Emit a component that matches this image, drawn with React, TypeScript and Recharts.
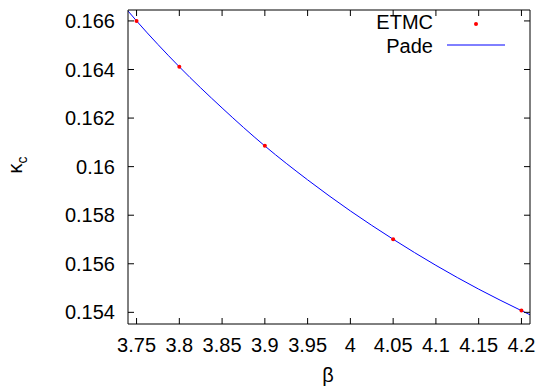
import {
  ComposedChart,
  Line,
  Scatter,
  XAxis,
  YAxis,
  Label,
} from 'recharts';

// ETMC critical kappa values
const etmcBeta = [3.75, 3.8, 3.9, 4.05, 4.2];
const etmcKappa = [0.166, 0.164111, 0.160856, 0.15701, 0.154073];

// Pade fit curve
const padeBeta = [3.74, 3.75, 3.775, 3.8, 3.85, 3.9, 3.95, 4.0, 4.05, 4.1, 4.15, 4.2, 4.21];
const padeKappa = [
  0.16641, 0.166, 0.16503, 0.164111, 0.162416, 0.160851, 0.159456, 0.158176, 0.15701,
  0.155935, 0.154955, 0.15407, 0.1539,
];

const xTicks = [3.75, 3.8, 3.85, 3.9, 3.95, 4, 4.05, 4.1, 4.15, 4.2];
const yTicks = [0.154, 0.156, 0.158, 0.16, 0.162, 0.164, 0.166];

const etmcData = etmcBeta.map((beta, i) => ({ beta, kappa: etmcKappa[i] }));
const padeData = padeBeta.map((beta, i) => ({ beta, kappa: padeKappa[i] }));

const FONT = '"Liberation Sans", Arial, sans-serif';
const tickStyle = { fontSize: 20, fill: '#000', fontFamily: FONT };

const legendRows = [
  { name: 'ETMC', kind: 'dot' },
  { name: 'Pade', kind: 'line' },
];

const LegendBox = () => (
  <div
    style={{
      position: 'absolute',
      left: 353,
      top: 10,
      width: 152,
      fontFamily: FONT,
      fontSize: 20,
      lineHeight: '24px',
      color: '#000',
    }}
  >
    {legendRows.map((r) => (
      <div key={r.name} style={{ display: 'flex', height: 24 }}>
        <span style={{ width: 80, textAlign: 'right' }}>{r.name}</span>
        <span style={{ width: 14 }} />
        <svg width={58} height={24}>
          {r.kind === 'dot' ? (
            <circle cx={29} cy={14} r={2} fill="#ff0000" />
          ) : (
            <line x1={0} x2={58} y1={11} y2={11} stroke="#0000ff" strokeWidth={1} />
          )}
        </svg>
      </div>
    ))}
  </div>
);

export default function App() {
  return (
    <div style={{ position: 'absolute', left: 0, top: 0, width: 541, height: 388, background: '#fff' }}>
      <ComposedChart
        width={541}
        height={388}
        margin={{ top: 9, right: 10, left: 0, bottom: 0 }}
      >
        <XAxis
          xAxisId={0}
          dataKey="beta"
          type="number"
          domain={[3.74, 4.21]}
          ticks={xTicks}
          allowDataOverflow
          height={64}
          tickSize={-6}
          tickMargin={20}
          tick={tickStyle}
          interval={0}
          axisLine={{ stroke: '#000' }}
          tickLine={{ stroke: '#000' }}
        >
          <Label
            content={({ viewBox }: any) => (
              <text
                x={viewBox.x + viewBox.width / 2 - 1}
                y={viewBox.y + 58}
                textAnchor="middle"
                fontSize={20}
                fontFamily={FONT}
                fill="#000"
              >
                β
              </text>
            )}
          />
        </XAxis>
        <XAxis
          xAxisId="top"
          orientation="top"
          dataKey="beta"
          type="number"
          domain={[3.74, 4.21]}
          ticks={xTicks}
          allowDataOverflow
          height={1}
          tickSize={-6}
          tickFormatter={() => ''}
          interval={0}
          axisLine={{ stroke: '#000' }}
          tickLine={{ stroke: '#000' }}
        />
        <YAxis
          yAxisId={0}
          type="number"
          domain={[0.15352, 0.16645]}
          ticks={yTicks}
          allowDataOverflow
          width={128}
          tickSize={-6}
          tickMargin={19}
          tick={tickStyle}
          interval={0}
          axisLine={{ stroke: '#000' }}
          tickLine={{ stroke: '#000' }}
        >
          <Label
            content={({ viewBox }: any) => {
              const x = viewBox.x + 22;
              const y = viewBox.y + viewBox.height / 2 - 2;
              return (
                <text
                  x={x}
                  y={y}
                  transform={`rotate(-90, ${x}, ${y})`}
                  textAnchor="middle"
                  fontSize={20}
                  fontFamily={FONT}
                  fill="#000"
                >
                  κ
                  <tspan fontSize={14} dy={5}>
                    c
                  </tspan>
                </text>
              );
            }}
          />
        </YAxis>
        <YAxis
          yAxisId="right"
          orientation="right"
          type="number"
          domain={[0.15352, 0.16645]}
          ticks={yTicks}
          allowDataOverflow
          width={1}
          tickSize={-6}
          tickFormatter={() => ''}
          interval={0}
          axisLine={{ stroke: '#000' }}
          tickLine={{ stroke: '#000' }}
        />
        <Line
          data={padeData}
          dataKey="kappa"
          type="monotone"
          stroke="#0000ff"
          strokeWidth={1}
          dot={false}
          activeDot={false}
          isAnimationActive={false}
        />
        <Scatter
          data={etmcData}
          dataKey="kappa"
          fill="#ff0000"
          isAnimationActive={false}
          shape={(p: any) => <circle cx={p.cx} cy={p.cy} r={2} fill="#ff0000" />}
        />
      </ComposedChart>
      <LegendBox />
    </div>
  );
}
